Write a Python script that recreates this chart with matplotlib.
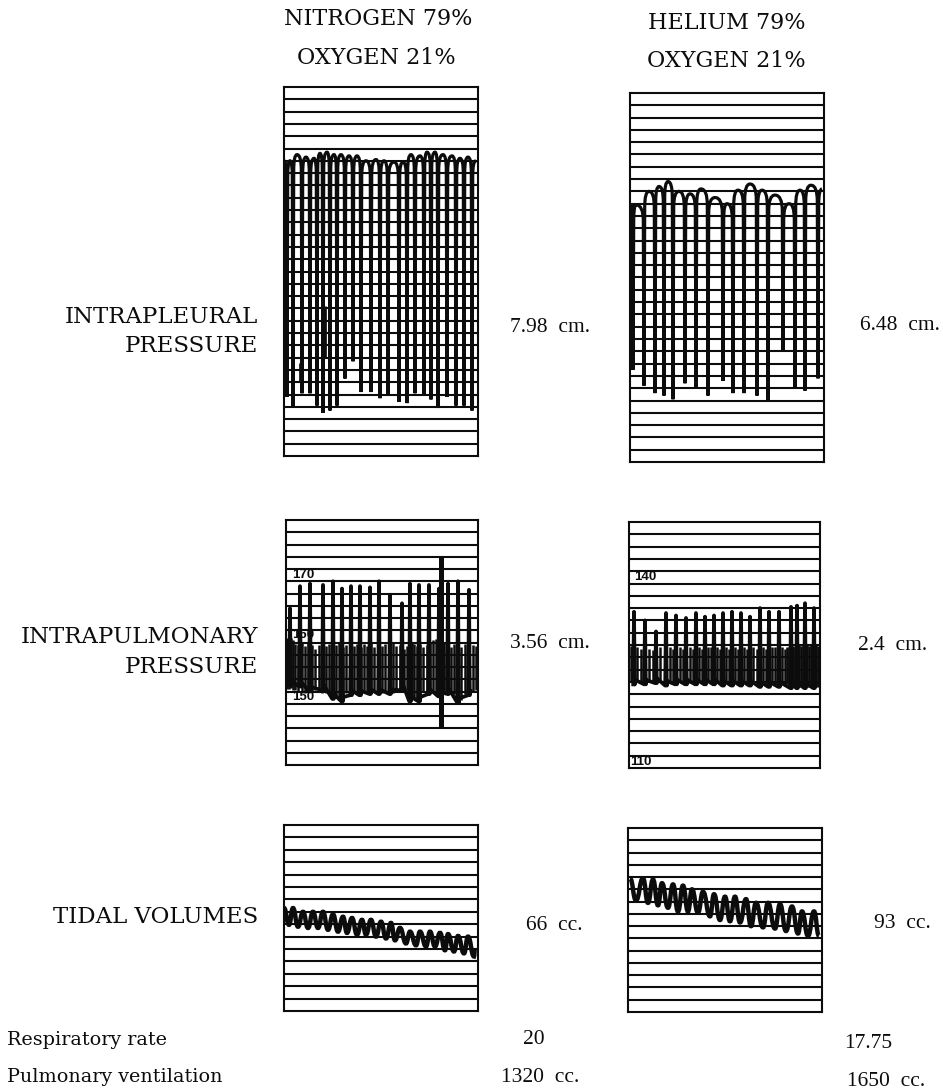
#!/usr/bin/python
# respiratory tracings, nitrogen/oxygen against helium/oxygen
import matplotlib
matplotlib.use('Agg')
from matplotlib import pyplot as plt
from matplotlib.path import Path
from matplotlib.patches import PathPatch

INK = '#0c0c0c'
W, H = 943.0, 1091.0

# intrapleural pressure, x along the record, y in chart divisions
pleural_n2_trough_x = [3, 9, 18, 26, 33, 39, 46, 53, 61, 69, 77, 87, 96, 104, 115, 123, 131, 140, 147, 154, 163, 172, 180, 188]
pleural_n2_trough_y = [4.8, 4.0, 5.1, 5.1, 4.1, 3.5, 3.7, 4.1, 6.3, 7.7, 5.2, 5.2, 4.7, 5.0, 4.4, 4.3, 5.1, 5.0, 4.6, 3.9, 4.8, 4.1, 4.1, 3.7]
pleural_n2_crest_x = [6, 13, 22, 30, 36, 43, 50, 57, 65, 73, 82, 92, 100, 110, 119, 127, 136, 143, 151, 159, 168, 176, 184, 192]
pleural_n2_crest_y = [24.0, 24.5, 24.3, 24.2, 24.6, 24.7, 24.5, 24.5, 24.4, 24.4, 24.0, 24.1, 24.0, 23.9, 23.9, 24.5, 24.4, 24.7, 24.7, 24.5, 24.4, 24.2, 24.3, 24.0]
pleural_n2_blot_x = [40, 17]
pleural_n2_blot_top = [12.2, 7.6]
pleural_n2_blot_low = [8.0, 6.0]

pleural_he_trough_x = [1, 3, 14, 25, 34, 43, 55, 66, 78, 93, 103, 114, 127, 138, 153, 165, 175, 188]
pleural_he_trough_y = [7.5, 7.5, 6.2, 5.6, 5.4, 5.1, 6.4, 6.0, 5.4, 6.6, 5.6, 5.6, 5.4, 5.0, 9.1, 6.1, 5.8, 6.8]
pleural_he_crest_x = [2, 6, 19, 29, 38, 49, 60, 71, 85, 97, 108, 120, 132, 145, 159, 170, 181, 192]
pleural_he_crest_y = [20.9, 20.9, 22.0, 22.4, 22.8, 22.0, 21.8, 22.2, 21.5, 21.0, 22.1, 22.6, 22.1, 21.7, 21.0, 22.1, 22.5, 22.2]

# intrapulmonary pressure
pulm_n2_spike_x = [4, 14, 24, 37, 47, 56, 65, 74, 84, 93, 104, 116, 124, 133, 143, 153, 162, 172, 183]
pulm_n2_spike_top = [12.8, 14.6, 14.8, 14.7, 15.0, 14.4, 14.6, 14.6, 14.5, 15.0, 13.9, 13.2, 14.8, 14.7, 14.7, 14.4, 14.8, 15.0, 14.3]
pulm_n2_spike_low = [6.5, 6.4, 6.0, 6.1, 5.4, 5.2, 5.7, 5.7, 5.8, 5.8, 5.8, 6.1, 5.2, 5.2, 5.8, 5.6, 5.8, 5.1, 5.7]
pulm_n2_band_x = [1, 3, 5, 7, 9, 12, 16, 19, 22, 26, 29, 33, 36, 40, 43, 46, 50, 53, 57, 60, 64, 68, 71, 75, 78, 81, 85, 88, 92, 96, 99, 103, 107, 110, 114, 118, 121, 124, 126, 128, 131, 134, 137, 141, 144, 147, 150, 156, 158, 161, 165, 168, 171, 175, 179, 183, 187, 190]
pulm_n2_band_top = [10.4, 10.6, 10.4, 10.2, 9.9, 9.8, 10.0, 9.7, 10.0, 9.8, 9.5, 9.8, 10.0, 9.7, 9.9, 9.6, 9.8, 10.0, 9.6, 9.8, 10.0, 9.7, 9.9, 9.6, 9.9, 9.7, 10.0, 9.6, 9.8, 9.7, 9.9, 9.6, 10.0, 9.7, 9.8, 9.5, 9.7, 9.9, 10.0, 9.9, 9.7, 9.9, 9.6, 9.8, 10.0, 10.2, 10.3, 10.2, 10.0, 9.7, 9.6, 9.9, 9.7, 9.6, 9.9, 9.7, 9.8, 9.7]
pulm_n2_band_low = [6.2, 6.2, 6.3, 6.1, 6.1, 6.0, 5.9, 5.9, 6.1, 6.0, 6.1, 6.1, 5.9, 5.9, 6.0, 5.6, 5.5, 5.4, 5.6, 5.9, 5.9, 5.9, 6.0, 5.9, 5.9, 6.0, 6.0, 6.1, 5.9, 5.9, 6.0, 6.0, 5.9, 6.0, 6.0, 6.1, 6.1, 5.8, 5.5, 5.4, 5.5, 5.7, 6.0, 6.0, 5.9, 5.9, 5.9, 5.9, 6.0, 6.0, 6.0, 5.8, 5.4, 5.3, 5.8, 6.0, 6.0, 6.1]
pulm_n2_artifact_x = [155]
pulm_n2_artifact_top = [17.0]
pulm_n2_artifact_low = [3.0]

pulm_he_spike_x = [5, 16, 27, 37, 47, 57, 67, 76, 85, 94, 103, 112, 121, 131, 140, 150, 162, 168, 176, 185]
pulm_he_spike_top = [12.7, 12.0, 11.1, 12.6, 12.4, 12.2, 12.6, 12.3, 12.4, 12.6, 12.7, 12.6, 12.3, 13.0, 12.7, 12.7, 13.1, 13.2, 13.4, 13.0]
pulm_he_spike_low = [6.8, 6.8, 6.9, 6.7, 6.8, 6.8, 6.8, 6.8, 6.8, 6.7, 6.7, 6.7, 6.7, 6.6, 6.6, 6.6, 6.5, 6.5, 6.5, 6.5]
pulm_he_band_x = [2, 8, 12, 20, 24, 31, 41, 44, 51, 54, 61, 64, 70, 73, 79, 82, 88, 91, 97, 100, 106, 109, 115, 118, 124, 128, 134, 137, 143, 146, 153, 156, 158, 160, 164, 166, 170, 172, 174, 178, 180, 182, 187, 189]
pulm_he_band_top = [9.9, 9.8, 9.7, 9.7, 9.6, 9.8, 9.8, 9.7, 9.8, 9.7, 9.8, 9.7, 9.8, 9.7, 9.8, 9.8, 9.8, 9.7, 9.8, 9.7, 9.8, 9.7, 9.8, 9.7, 9.8, 9.7, 9.8, 9.7, 9.8, 9.8, 9.8, 9.7, 9.8, 9.8, 9.9, 9.8, 10.0, 9.9, 10.0, 10.0, 9.9, 10.0, 10.0, 9.9]
pulm_he_band_low = [7.0, 7.0, 6.9, 7.0, 6.9, 7.0, 7.0, 6.9, 7.0, 7.0, 6.9, 7.0, 7.0, 6.9, 7.0, 6.9, 6.9, 7.0, 6.9, 6.9, 7.0, 6.9, 6.9, 6.9, 6.9, 6.8, 6.8, 6.9, 6.8, 6.8, 6.8, 6.7, 6.8, 6.7, 6.7, 6.7, 6.7, 6.6, 6.6, 6.6, 6.6, 6.7, 6.6, 6.6]

# tidal volumes
tidal_n2_crest_x = [0, 9, 19, 29, 39, 49, 59, 68, 78, 87, 97, 107, 116, 126, 136, 146, 156, 164, 174, 184, 191]
tidal_n2_crest_y = [8.3, 8.3, 8.0, 8.0, 8.0, 7.8, 7.6, 7.5, 7.35, 7.35, 7.2, 7.1, 6.7, 6.4, 6.4, 6.4, 6.3, 6.2, 6.05, 6.0, 5.05]
tidal_n2_trough_x = [5, 14, 24, 34, 44, 54, 63, 73, 82, 92, 102, 111, 122, 132, 142, 151, 161, 170, 180, 190]
tidal_n2_trough_y = [6.95, 6.8, 6.7, 6.7, 6.55, 6.4, 6.3, 6.15, 6.15, 6.0, 5.85, 5.7, 5.45, 5.3, 5.2, 5.2, 4.9, 4.8, 4.65, 4.4]

tidal_he_crest_x = [2, 15, 25, 34, 45, 55, 64, 75, 86, 97, 107, 118, 128, 140, 152, 164, 174, 186]
tidal_he_crest_y = [10.9, 10.9, 10.8, 10.5, 10.4, 10.3, 10.0, 9.8, 9.6, 9.4, 9.4, 9.2, 8.9, 8.9, 8.8, 8.6, 8.2, 8.2]
tidal_he_trough_x = [8, 20, 30, 40, 50, 60, 70, 82, 92, 102, 112, 123, 135, 147, 158, 170, 180, 191]
tidal_he_trough_y = [9.1, 8.9, 8.7, 8.5, 8.2, 8.2, 8.1, 7.8, 7.5, 7.4, 7.3, 7.0, 6.9, 6.8, 6.6, 6.4, 6.2, 6.2]

columns = ['NITROGEN 79%', 'OXYGEN 21%', 'HELIUM 79%', 'OXYGEN 21%']
row_names = ['INTRAPLEURAL', 'PRESSURE', 'INTRAPULMONARY', 'PRESSURE', 'TIDAL VOLUMES']
amplitudes = ['7.98  cm.', '6.48  cm.', '3.56  cm.', '2.4  cm.', '66  cc.', '93  cc.']
resp_rate = ['20', '17.75']
ventilation = ['1320  cc.', '1650  cc.']


def panel(left, top, right, bottom, rows, grid_lw=1.5):
    fig_w = right - left
    ax = fig.add_axes([left / W, 1 - bottom / H, fig_w / W, (bottom - top) / H])
    ax.set_xlim(0, fig_w)
    ax.set_ylim(0, rows)
    ax.set_xticks([])
    ax.set_yticks([])
    for s in ax.spines.values():
        s.set_linewidth(1.5)
        s.set_color(INK)
    ax.hlines(range(1, rows), 0, fig_w, color=INK, lw=grid_lw, zorder=1)
    return ax


def loop_trace(ax, tx, ty, cx, cy, start):
    # small arch on top, then the pen falls straight to a trough and comes back
    verts = [(0, start)]
    codes = [Path.MOVETO]
    py = start
    for i in range(len(tx)):
        verts += [(tx[i] - 0.7, py), (tx[i] - 0.7, py - 1.3), (tx[i], ty[i]), (tx[i] + 0.7, cy[i] - 1.3),
                  (tx[i] + 0.7, cy[i]), (cx[i], cy[i])]
        codes += [Path.CURVE3, Path.CURVE3, Path.LINETO, Path.LINETO, Path.CURVE3, Path.CURVE3]
        py = cy[i]
    ax.add_patch(PathPatch(Path(verts, codes), fill=False, edgecolor=INK, lw=2.3, zorder=3))


def spike_trace(ax, sx, top, low, bx, btop, blow):
    ax.vlines(bx, blow, btop, color=INK, lw=1.8, zorder=2)
    xs, ys = [], []
    for i in range(len(sx)):
        xs += [sx[i] - 0.8, sx[i], sx[i] + 0.8, sx[i] + 1.5]
        ys += [low[i], top[i], low[i], low[i] + 0.35]
    ax.plot(xs, ys, color=INK, lw=2.7, solid_joinstyle='round', zorder=3)


def wave_trace(ax, cx, cy, tx, ty):
    # horizontal handles at every turn keep the waves round
    pts = []
    for i in range(len(cx)):
        pts.append((cx[i], cy[i]))
        if i < len(tx):
            pts.append((tx[i], ty[i]))
    verts = [pts[0]]
    codes = [Path.MOVETO]
    for a, b in zip(pts[:-1], pts[1:]):
        mid = (a[0] + b[0]) / 2
        verts += [(mid, a[1]), (mid, b[1]), b]
        codes += [Path.CURVE4] * 3
    ax.add_patch(PathPatch(Path(verts, codes), fill=False, edgecolor=INK, lw=3.2, zorder=3))


def scale_mark(ax, x, y, s):
    ax.text(x, y, s, fontsize=9.5, fontweight='bold', family=['Liberation Sans'], ha='left', va='center',
            color=INK, zorder=2)


fig = plt.figure(figsize=(W / 100, H / 100), dpi=100, facecolor='white')

ax = panel(284, 87, 478, 456, 30)
loop_trace(ax, pleural_n2_trough_x, pleural_n2_trough_y, pleural_n2_crest_x, pleural_n2_crest_y, 24.0)
ax.vlines(pleural_n2_blot_x, pleural_n2_blot_low, pleural_n2_blot_top, color=INK, lw=3.4, zorder=4)

ax = panel(630, 93, 824, 462, 30)
loop_trace(ax, pleural_he_trough_x, pleural_he_trough_y, pleural_he_crest_x, pleural_he_crest_y, 21.0)

ax = panel(286, 520, 478, 765, 20)
scale_mark(ax, 6, 15.55, '170')
scale_mark(ax, 6, 10.6, '160')
scale_mark(ax, 6, 5.55, '150')
spike_trace(ax, pulm_n2_spike_x, pulm_n2_spike_top, pulm_n2_spike_low, pulm_n2_band_x, pulm_n2_band_top, pulm_n2_band_low)
ax.vlines(pulm_n2_artifact_x, pulm_n2_artifact_low, pulm_n2_artifact_top, color=INK, lw=3.6, zorder=4)

ax = panel(629, 522, 820, 768, 20)
scale_mark(ax, 5, 15.55, '140')
scale_mark(ax, 1, 0.52, '110')
spike_trace(ax, pulm_he_spike_x, pulm_he_spike_top, pulm_he_spike_low, pulm_he_band_x, pulm_he_band_top, pulm_he_band_low)

ax = panel(284, 825, 478, 1011, 15)
wave_trace(ax, tidal_n2_crest_x, tidal_n2_crest_y, tidal_n2_trough_x, tidal_n2_trough_y)

ax = panel(628, 828, 822, 1012, 15)
wave_trace(ax, tidal_he_crest_x, tidal_he_crest_y, tidal_he_trough_x, tidal_he_trough_y)


def label(x, y, s, ha='left', size=16.5, family='DejaVu Serif'):
    fig.text(x / W, 1 - y / H, s, ha=ha, va='center', fontsize=size, color=INK, family=family)


label(284, 19, columns[0], size=16)
label(297, 58, columns[1], size=16)
label(648, 23, columns[2], size=16)
label(647, 61, columns[3], size=16)

label(258, 317, row_names[0], 'right')
label(258, 346, row_names[1], 'right')
label(258, 637, row_names[2], 'right')
label(258, 667, row_names[3], 'right')
label(258, 917, row_names[4], 'right')

serif = 'Liberation Serif'
label(550, 327, amplitudes[0], 'center', 15.5, serif)
label(900, 325, amplitudes[1], 'center', 15.5, serif)
label(550, 643, amplitudes[2], 'center', 15.5, serif)
label(893, 645, amplitudes[3], 'center', 15.5, serif)
label(554, 925, amplitudes[4], 'center', 15.5, serif)
label(902, 923, amplitudes[5], 'center', 15.5, serif)

label(7, 1040, 'Respiratory rate', 'left', 13.8)
label(7, 1077, 'Pulmonary ventilation', 'left', 13.8)
label(534, 1040, resp_rate[0], 'center', 15.5, serif)
label(868, 1043, resp_rate[1], 'center', 15.5, serif)
label(540, 1077, ventilation[0], 'center', 15.5, serif)
label(886, 1081, ventilation[1], 'center', 15.5, serif)

plt.savefig('out.png', dpi=100)
